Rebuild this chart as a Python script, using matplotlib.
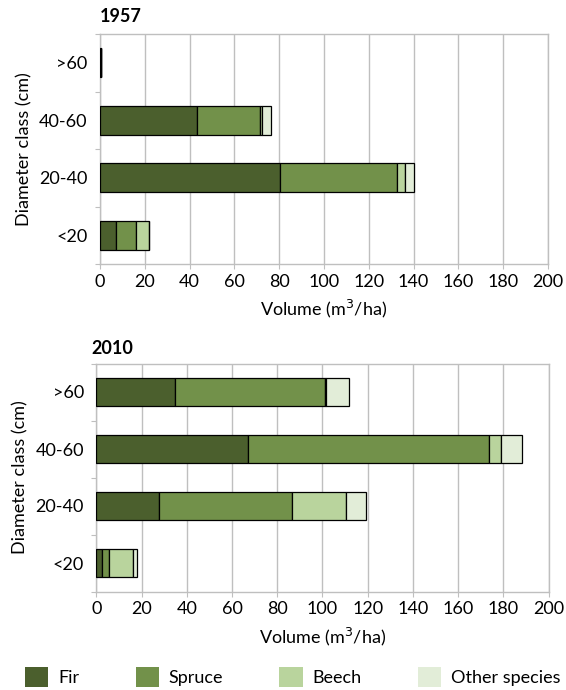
import matplotlib
matplotlib.use("Agg")
import matplotlib.pyplot as plt
from matplotlib.patches import Patch

# Standing volume per diameter class and species (m3/ha)
classes = ["<20", "20-40", "40-60", ">60"]
species = ["Fir", "Spruce", "Beech", "Other species"]

fir_1957 = [7, 80.4, 43.3, 0.6]
spruce_1957 = [9, 52, 28.1, 0]
beech_1957 = [6, 3.6, 0.9, 0]
other_1957 = [0, 4, 3.9, 0]

fir_2010 = [2.7, 27.6, 67, 35]
spruce_2010 = [3.1, 58.9, 106.9, 66]
beech_2010 = [10.3, 24.1, 4.9, 0.5]
other_2010 = [2, 8.9, 9.4, 10.2]

colors = ["#4b5f2d", "#72914a", "#b9d49d", "#e2edd8"]
grid_grey = "#bfbfbf"

plt.rcParams["font.family"] = ["Lato", "DejaVu Sans"]
plt.rcParams["font.size"] = 13

fig = plt.figure(figsize=(5.66, 6.9), dpi=100)
W, H = 566, 690


def px_axes(left, top, right, bottom):
    return fig.add_axes([left / W, 1 - bottom / H, (right - left) / W, (bottom - top) / H])


def draw_panel(ax, series):
    left = [0] * len(classes)
    for vals, color, name in zip(series, colors, species):
        ax.barh(classes, vals, left=left, height=0.5, color=color,
                edgecolor="black", linewidth=0.9, label=name, zorder=3)
        left = [a + b for a, b in zip(left, vals)]

    ax.set_xlim(0, 200)
    ax.set_xticks(range(0, 201, 20))
    ax.set_ylim(-0.5, len(classes) - 0.5)
    # category ticks sit between the bars
    ax.set_yticks([i + 0.5 for i in range(-1, len(classes))], minor=False)
    ax.set_yticklabels([])
    ax.set_yticks(range(len(classes)), minor=True)
    ax.set_yticklabels(classes, minor=True)
    ax.tick_params(axis="y", which="major", length=3.6, color=grid_grey, direction="out")
    ax.tick_params(axis="y", which="minor", length=0, pad=9)
    ax.tick_params(axis="x", length=3.6, color=grid_grey, pad=3.5)

    ax.grid(axis="x", color=grid_grey, linewidth=1, zorder=0)
    ax.set_axisbelow(True)
    for side in ["top", "bottom", "left", "right"]:
        ax.spines[side].set_color(grid_grey)
        ax.spines[side].set_linewidth(1)

    ax.set_xlabel("Volume (m$^3$/ha)", labelpad=6)
    ax.set_ylabel("Diameter class (cm)", labelpad=4.7)


ax1 = px_axes(100, 34, 548, 264)
draw_panel(ax1, [fir_1957, spruce_1957, beech_1957, other_1957])
fig.text(100 / W, 1 - 16 / H, "1957", fontweight="bold", va="center", ha="left")

ax2 = px_axes(96.3, 363.5, 548.5, 591.5)
draw_panel(ax2, [fir_2010, spruce_2010, beech_2010, other_2010])
fig.text(91 / W, 1 - 348 / H, "2010", fontweight="bold", va="center", ha="left")

handles = [Patch(facecolor=c, edgecolor="none") for c in colors]
fig.legend(handles, species, loc="center left", bbox_to_anchor=(25 / W, 1 - 677 / H),
           ncol=4, frameon=False, handlelength=1.3, handleheight=1.3,
           handletextpad=0.55, columnspacing=3.1, borderaxespad=0, borderpad=0)

fig.savefig("out.png", dpi=100)
